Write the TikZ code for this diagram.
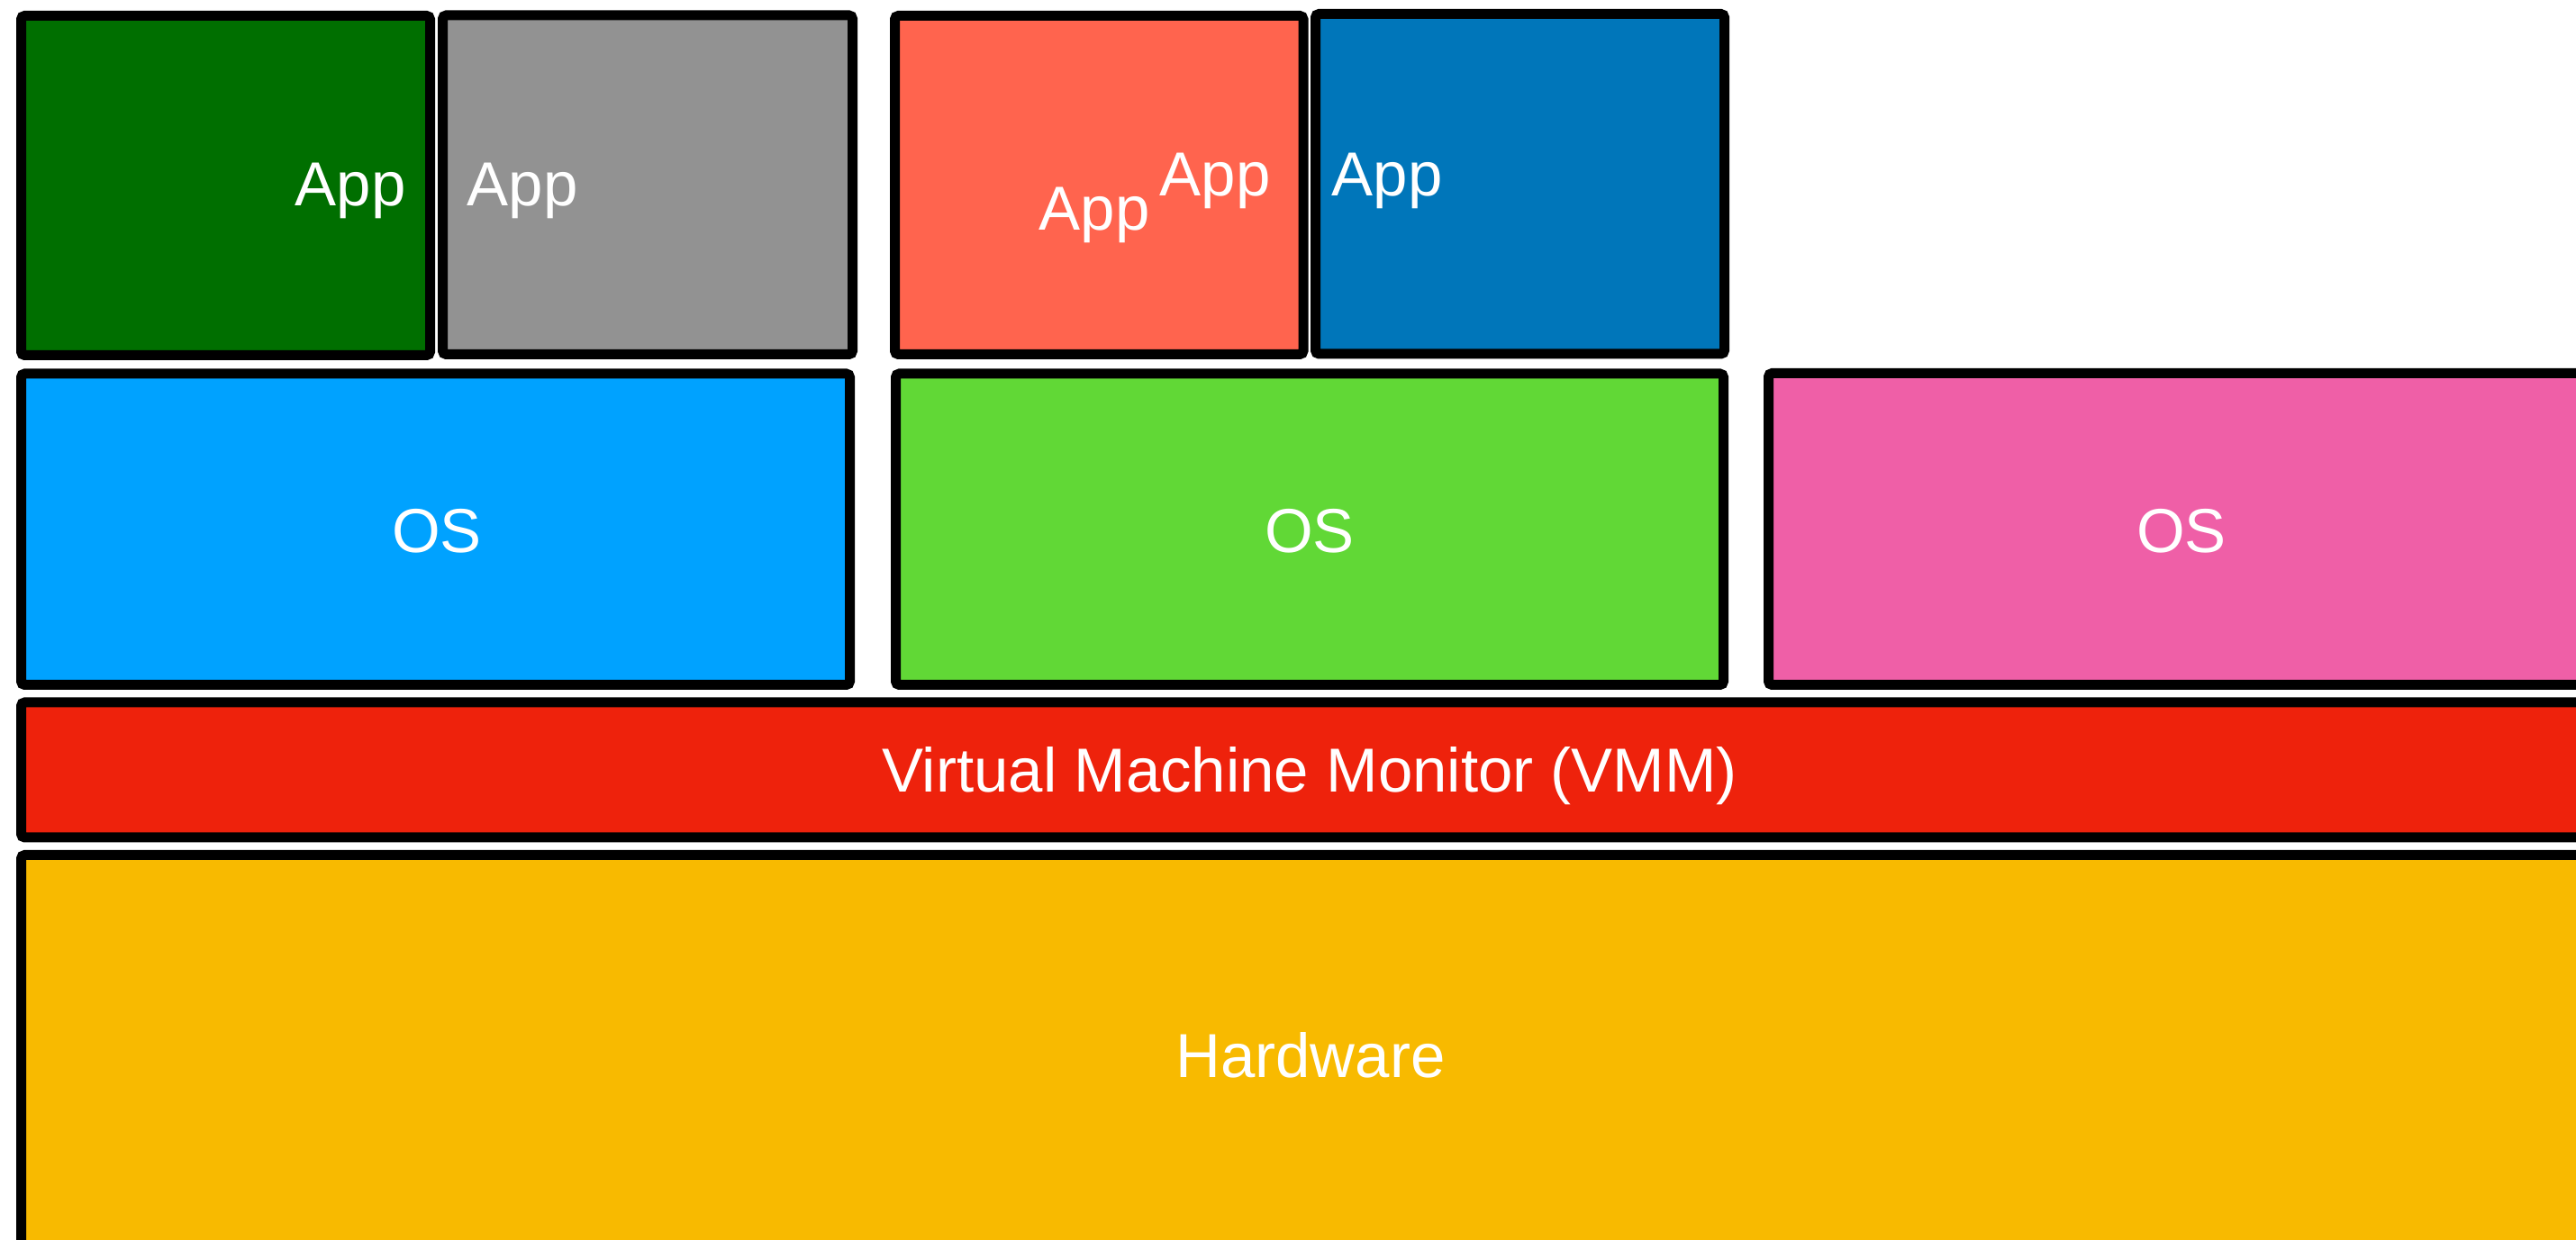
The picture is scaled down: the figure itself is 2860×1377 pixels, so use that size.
\documentclass[tikz,border=0pt]{standalone}
\usepackage{fontspec}
\setmainfont{Liberation Sans}
\definecolor{appgreen}{HTML}{006F00}
\definecolor{appgray}{HTML}{929292}
\definecolor{apporange}{HTML}{FF644E}
\definecolor{appblue}{HTML}{0076BA}
\definecolor{osblue}{HTML}{00A2FF}
\definecolor{osgreen}{HTML}{61D836}
\definecolor{ospink}{HTML}{EF5FA7}
\definecolor{vmmred}{HTML}{EE220C}
\definecolor{hwyellow}{HTML}{F8BA00}
\begin{document}
\begin{tikzpicture}[x=0.25pt,y=-0.25pt,
  box/.style={draw=black,line width=2.75pt,rounded corners=1pt},
  lbl/.style={text=white,font=\fontsize{17.25}{20}\selectfont,inner sep=0pt}]
\useasboundingbox (0,0) rectangle (2860,1377);
\clip (0,0) rectangle (2860,1377);
\fill[white] (0,0) rectangle (2860,1377);
% layers
\draw[box,fill=hwyellow] (23.5,949.5) rectangle (2886,1400);
\draw[box,fill=vmmred] (23.5,780) rectangle (2886,930);
\draw[box,fill=osblue] (23.5,415) rectangle (943.5,760.5);
\draw[box,fill=osgreen] (994.5,415) rectangle (1913.5,760.5);
\draw[box,fill=ospink] (1963.5,414.5) rectangle (2886,760.5);
% apps
\draw[box,fill=appgreen] (23.5,17.5) rectangle (477.5,394.5);
\draw[box,fill=appgray] (491.5,17) rectangle (946.5,393.5);
\draw[box,fill=apporange] (993.5,17.5) rectangle (1447,393.5);
\draw[box,fill=appblue] (1460.5,15.5) rectangle (1914.5,393);
% labels
\node[lbl,anchor=base west] (app1) at (327,229) {App};
\node[lbl,anchor=base west] (app2) at (518,229) {App};
\node[lbl,anchor=base west] (app3) at (1153,256) {App};
\node[lbl,anchor=base west] (app4) at (1287,218) {App};
\node[lbl,anchor=base west] (app5) at (1478,218) {App};
\node[lbl,anchor=base] (os1) at (485,614) {OS};
\node[lbl,anchor=base] (os2) at (1454,614) {OS};
\node[lbl,anchor=base] (os3) at (2422,614) {OS};
\node[lbl,anchor=base] (vmm) at (1454,880) {Virtual Machine Monitor (VMM)};
\node[lbl,anchor=base] (hw) at (1455,1197) {Hardware};
\end{tikzpicture}
\end{document}
